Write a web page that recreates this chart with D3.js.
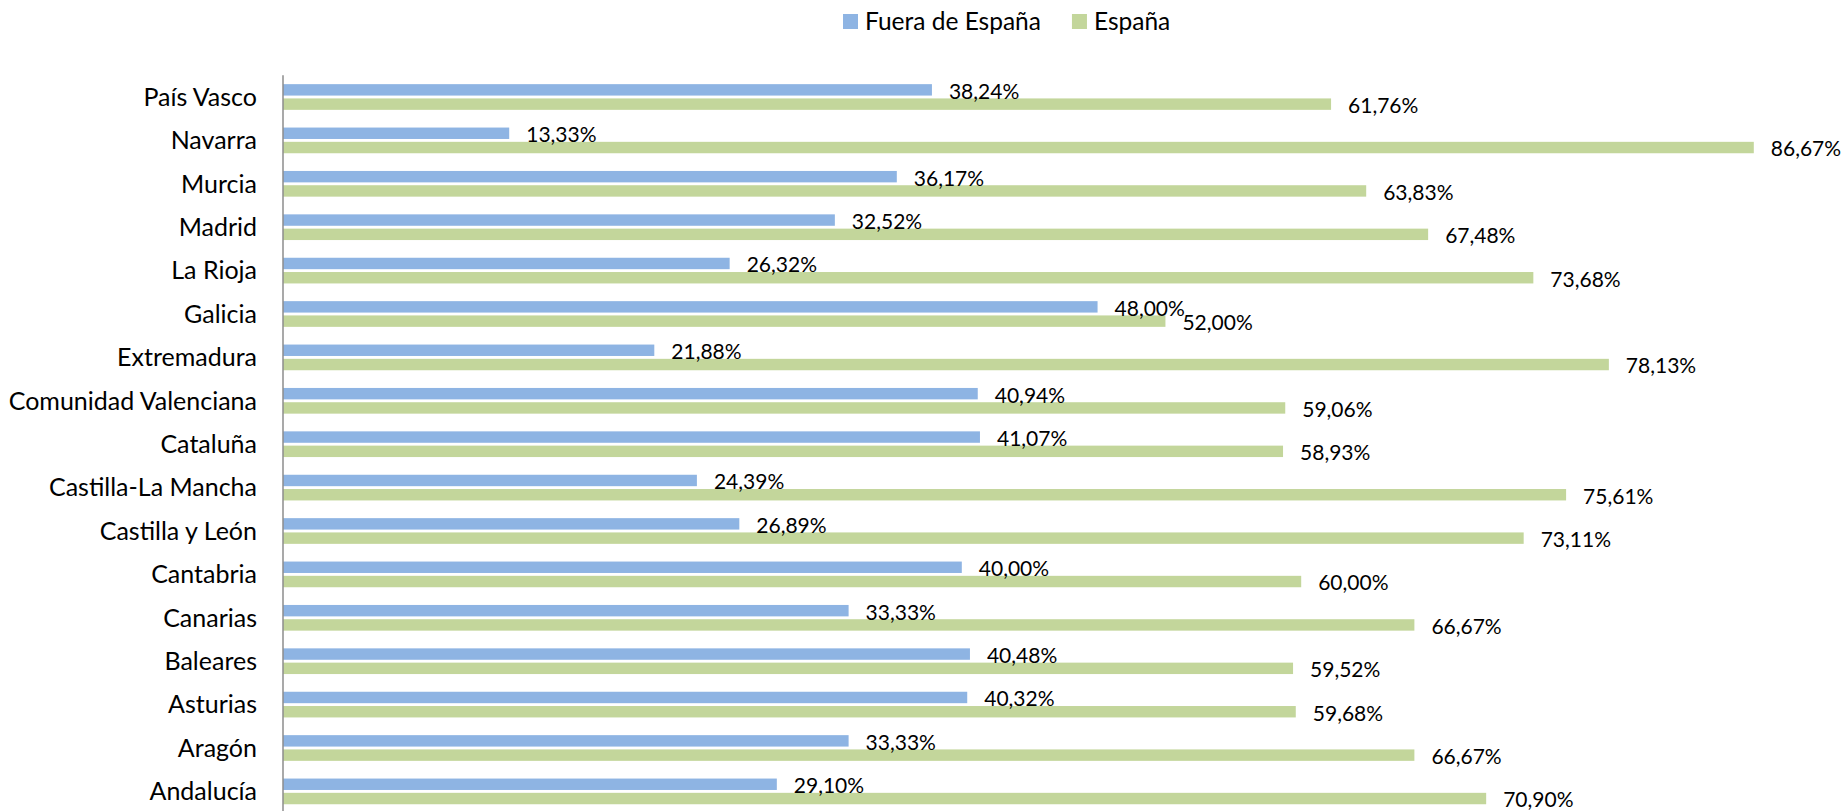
<!DOCTYPE html>
<html>
<head>
<meta charset="utf-8">
<script src="https://cdn.jsdelivr.net/npm/d3@7"></script>
<style>
  html, body { margin: 0; padding: 0; background: #fff; }
  svg text { font-family: Lato, "Open Sans", sans-serif; fill: #000; }
</style>
</head>
<body>
<div id="chart"></div>
<script>
// regions, top to bottom as in the chart
var categories = ['País Vasco', 'Navarra', 'Murcia', 'Madrid', 'La Rioja', 'Galicia', 'Extremadura',
  'Comunidad Valenciana', 'Cataluña', 'Castilla-La Mancha', 'Castilla y León', 'Cantabria',
  'Canarias', 'Baleares', 'Asturias', 'Aragón', 'Andalucía'];

var seriesNames = ['Fuera de España', 'España'];

var fueraValues = [38.24, 13.33, 36.17, 32.52, 26.32, 48.00, 21.88, 40.94, 41.07, 24.39, 26.89, 40.00, 33.33, 40.48, 40.32, 33.33, 29.10];
var espanaValues = [61.76, 86.67, 63.83, 67.48, 73.68, 52.00, 78.13, 59.06, 58.93, 75.61, 73.11, 60.00, 66.67, 59.52, 59.68, 66.67, 70.90];

var seriesColors = ['#8EB4E3', '#C3D69B'];

var width = 1844,
    height = 811,
    axisX = 283;

var rows = categories.map(function(c, i) {
  return { name: c, values: [fueraValues[i] / 100, espanaValues[i] / 100] };
});

var locale = d3.formatLocale({ decimal: ',', thousands: '.', grouping: [3], currency: ['', '€'] });
var fmt = locale.format('.2%');

var x = d3.scaleLinear()
  .domain([0, 1])
  .range([axisX, axisX + 1697]);

var y = d3.scaleBand()
  .domain(categories)
  .range([75.3, 813.1])
  .paddingInner(0.408)
  .paddingOuter(0.204);

var ySub = d3.scaleBand()
  .domain([0, 1])
  .range([0, y.bandwidth()])
  .paddingInner(0.2);

var svg = d3.select('#chart').append('svg')
  .attr('width', width)
  .attr('height', height);

svg.append('rect')
  .attr('width', width)
  .attr('height', height)
  .attr('fill', '#fff');

var g = svg.selectAll('.row')
  .data(rows)
.enter().append('g')
  .attr('class', 'row')
  .attr('transform', function(d) { return 'translate(0,' + y(d.name) + ')'; });

g.selectAll('rect')
  .data(function(d) { return d.values; })
.enter().append('rect')
  .attr('x', x(0))
  .attr('y', function(d, i) { return ySub(i); })
  .attr('width', function(d) { return x(d) - x(0); })
  .attr('height', ySub.bandwidth())
  .attr('fill', function(d, i) { return seriesColors[i]; });

g.selectAll('text.val')
  .data(function(d) { return d.values; })
.enter().append('text')
  .attr('class', 'val')
  .attr('x', function(d) { return x(d) + 17; })
  .attr('y', function(d, i) { return ySub(i) + ySub.bandwidth() / 2 + 1.5; })
  .attr('dy', '0.35em')
  .style('font-size', '21px')
  .text(function(d) { return fmt(d); });

// category labels
svg.selectAll('.cat')
  .data(categories)
.enter().append('text')
  .attr('class', 'cat')
  .attr('x', axisX - 26)
  .attr('y', function(d) { return y(d) + y.bandwidth() / 2; })
  .attr('dy', '0.35em')
  .attr('text-anchor', 'end')
  .style('font-size', '25px')
  .text(function(d) { return d; });

// vertical axis line
svg.append('line')
  .attr('x1', axisX).attr('x2', axisX)
  .attr('y1', y.range()[0]).attr('y2', height)
  .attr('stroke', '#8c8c8c')
  .attr('stroke-width', 1.5);

// legend
var legend = svg.append('g').attr('transform', 'translate(843,14)');
var lx = 0;
seriesNames.forEach(function(name, i) {
  var item = legend.append('g').attr('transform', 'translate(' + lx + ',0)');
  item.append('rect')
    .attr('width', 15).attr('height', 15)
    .attr('fill', seriesColors[i]);
  var t = item.append('text')
    .attr('x', 22)
    .attr('y', 7.5)
    .attr('dy', '0.35em')
    .style('font-size', '24.5px')
    .text(name);
  lx += 22 + t.node().getComputedTextLength() + 31;
});
</script>
</body>
</html>
